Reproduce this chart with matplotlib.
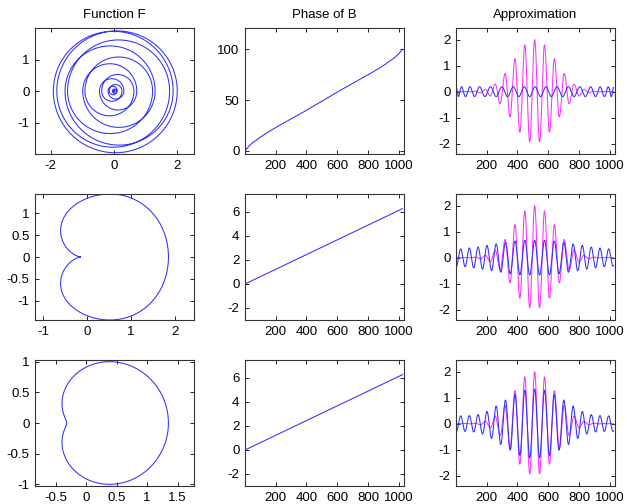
import numpy as np
import matplotlib
matplotlib.use("Agg")
import matplotlib.pyplot as plt
from matplotlib.ticker import FormatStrFormatter

plt.rcParams['font.family'] = ['Liberation Sans', 'DejaVu Sans']
plt.rcParams['axes.unicode_minus'] = False

# ---------------- data ----------------
n_last = 1024
centre = 512
half_period = 32            # samples between successive extrema of the target

# target (magenta): |extremum| from the centre outwards (k = 0..16)
target_extrema = [2.0, 1.93, 1.80, 1.56, 1.27, 0.97, 0.70, 0.46, 0.29,
                  0.17, 0.09, 0.045, 0.02, 0.01, 0.005, 0.002, 0.001]

# row 1: Function F radii at successive half turns (k = -16..16)
F1_radii = [0.001, 0.003, 0.006, 0.012, 0.025, 0.05, 0.10, 0.19, 0.31,
            0.46, 0.72, 0.99, 1.30, 1.55, 1.87, 1.92, 2.0,
            1.81, 1.76, 1.47, 1.22, 0.92, 0.63, 0.39, 0.25,
            0.15, 0.08, 0.04, 0.025, 0.012, 0.006, 0.003, 0.001]

# row 1: phase of B
phase1_n = [1, 25, 50, 100, 150, 200, 300, 400, 512, 624, 724, 824, 874, 924, 974, 999, 1024]
phase1_v = [0, 4.5, 8, 13.5, 18.5, 23, 31.5, 40, 50, 60, 68.5, 77, 81.5, 86.5, 92, 95.5, 100]
approx1_amp = 0.19

# rows 2, 3: phase of B
phase23_n = [1, 1024]
phase23_v = [0, 6.28]

# row 2: Function F, polar about the cusp: r = (1+cos)*P(1-cos)
F2_pole = -0.14
F2_coef = [0.995, 0.3062, -0.3514, 0.3239]
# row 3: Function F = a0 + a1 z + a2 z^2 on the unit circle
F3_coef = [0.195, 0.835, 0.32]

# rows 2, 3: approximation extrema (offsets from centre and magnitudes)
approx_offsets = [0, 32, 64, 96, 127.5, 158.5, 189.5, 220, 250, 280, 309.5,
                  338.5, 367.5, 396, 424.5, 452.5, 480.5, 508.5, 536.5]
approx2_amp = [0.67, 0.67, 0.67, 0.66, 0.64, 0.62, 0.59, 0.56, 0.53, 0.50,
               0.47, 0.44, 0.41, 0.39, 0.37, 0.35, 0.34, 0.33, 0.33]
approx3_amp = [1.33, 1.32, 1.29, 1.22, 1.12, 1.02, 0.91, 0.80, 0.68, 0.57,
               0.47, 0.40, 0.35, 0.32, 0.31, 0.30, 0.30, 0.30, 0.30]

titles = ["Function F", "Phase of B", "Approximation"]

# ---------------- helpers ----------------
def smooth_through_extrema(pos, val, x):
    pos = np.asarray(pos, float); val = np.asarray(val, float)
    i = np.clip(np.searchsorted(pos, x, side='right') - 1, 0, len(pos) - 2)
    s = np.clip((x - pos[i]) / (pos[i + 1] - pos[i]), 0, 1)
    return val[i] + (val[i + 1] - val[i]) * (1 - np.cos(np.pi * s)) / 2

n = np.linspace(1, n_last, 4000)

k = np.arange(-16, 17)
tgt_pos = centre + half_period * k
tgt_val = np.array([(-1) ** abs(kk) * target_extrema[abs(kk)] for kk in k])
target = smooth_through_extrema(tgt_pos, tgt_val, n)

def approx_series(amps):
    offs = np.array(approx_offsets)
    pos = np.concatenate([centre - offs[:0:-1], centre + offs])
    js = np.concatenate([np.arange(len(offs) - 1, 0, -1), np.arange(len(offs))])
    vals = np.array([(-1) ** j * amps[j] for j in js])
    return smooth_through_extrema(pos, vals, n)

approx1 = approx1_amp * np.cos(np.interp(n, phase1_n, phase1_v))
approx2 = approx_series(approx2_amp)
approx3 = approx_series(approx3_amp)

# F curves
t = np.linspace(-16, 16, 6000)
r1 = smooth_through_extrema(np.arange(-16, 17), F1_radii, t)
F1x, F1y = r1 * np.cos(np.pi * t), r1 * np.sin(np.pi * t)

th = np.linspace(0, 2 * np.pi, 2000)
c = np.cos(th)
u = 1 - c
r2 = (1 + c) * sum(a * u ** i for i, a in enumerate(F2_coef))
F2x, F2y = F2_pole + r2 * np.cos(th), r2 * np.sin(th)

z = np.exp(1j * th)
F3 = sum(a * z ** i for i, a in enumerate(F3_coef))
F3x, F3y = F3.real, F3.imag

# ---------------- figure ----------------
W, H = 627, 504
fig = plt.figure(figsize=(W / 100, H / 100), dpi=100)
lefts = [35, 245, 456]
tops = [28, 194, 360]
aw, ah = 159, 126

blue = '#3030ff'
mag = '#ff30ff'
lw = 0.75
fs = 9.5

def make_ax(r, cidx):
    ax = fig.add_axes([lefts[cidx] / W, 1 - (tops[r] + ah) / H, aw / W, ah / H])
    ax.tick_params(direction='in', length=3, width=0.6, top=True, right=True,
                   labelsize=fs, pad=4, colors='black')
    for sp in ax.spines.values():
        sp.set_linewidth(0.8)
        sp.set_color('#333333')
    ax.xaxis.set_major_formatter(FormatStrFormatter('%g'))
    ax.yaxis.set_major_formatter(FormatStrFormatter('%g'))
    return ax

# row 1
ax = make_ax(0, 0)
ax.plot(F1x, F1y, color=blue, lw=lw)
ax.set_xlim(-2.5, 2.53); ax.set_ylim(-2.0, 2.0)
ax.set_xticks([-2, 0, 2]); ax.set_yticks([-1, 0, 1])
ax.set_title(titles[0], fontsize=fs, pad=7)

ax = make_ax(0, 1)
ax.plot(phase1_n, phase1_v, color=blue, lw=lw)
ax.set_xlim(1, 1034); ax.set_ylim(-3, 121)
ax.set_xticks([200, 400, 600, 800, 1000]); ax.set_yticks([0, 50, 100])
ax.set_title(titles[1], fontsize=fs, pad=7)

ax = make_ax(0, 2)
ax.plot(n, target, color=mag, lw=lw)
ax.plot(n, approx1, color=blue, lw=lw)
ax.set_xlim(1, 1034); ax.set_ylim(-2.4, 2.45)
ax.set_xticks([200, 400, 600, 800, 1000]); ax.set_yticks([-2, -1, 0, 1, 2])
ax.set_title(titles[2], fontsize=fs, pad=7)

# row 2
ax = make_ax(1, 0)
ax.plot(F2x, F2y, color=blue, lw=lw)
ax.set_xlim(-1.18, 2.43); ax.set_ylim(-1.44, 1.44)
ax.set_xticks([-1, 0, 1, 2]); ax.set_yticks([-1, -0.5, 0, 0.5, 1])

ax = make_ax(1, 1)
ax.plot(phase23_n, phase23_v, color=blue, lw=lw)
ax.set_xlim(1, 1034); ax.set_ylim(-3, 7.5)
ax.set_xticks([200, 400, 600, 800, 1000]); ax.set_yticks([-2, 0, 2, 4, 6])

ax = make_ax(1, 2)
ax.plot(n, target, color=mag, lw=lw)
ax.plot(n, approx2, color=blue, lw=lw)
ax.set_xlim(1, 1034); ax.set_ylim(-2.4, 2.45)
ax.set_xticks([200, 400, 600, 800, 1000]); ax.set_yticks([-2, -1, 0, 1, 2])

# row 3
ax = make_ax(2, 0)
ax.plot(F3x, F3y, color=blue, lw=lw)
ax.set_xlim(-0.84, 1.77); ax.set_ylim(-1.03, 1.03)
ax.set_xticks([-0.5, 0, 0.5, 1, 1.5]); ax.set_yticks([-1, -0.5, 0, 0.5, 1])

ax = make_ax(2, 1)
ax.plot(phase23_n, phase23_v, color=blue, lw=lw)
ax.set_xlim(1, 1034); ax.set_ylim(-3, 7.5)
ax.set_xticks([200, 400, 600, 800, 1000]); ax.set_yticks([-2, 0, 2, 4, 6])

ax = make_ax(2, 2)
ax.plot(n, target, color=mag, lw=lw)
ax.plot(n, approx3, color=blue, lw=lw)
ax.set_xlim(1, 1034); ax.set_ylim(-2.4, 2.45)
ax.set_xticks([200, 400, 600, 800, 1000]); ax.set_yticks([-2, -1, 0, 1, 2])

fig.savefig("out.png", dpi=100)
